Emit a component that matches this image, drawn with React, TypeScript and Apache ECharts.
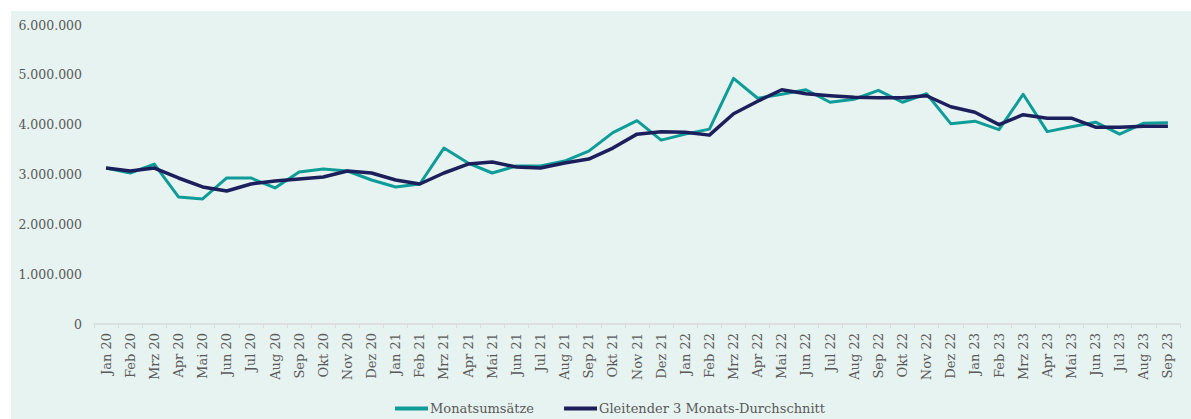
import React, { useEffect, useRef } from "react";
import * as echarts from "echarts";

const months = [
  "Jan 20","Feb 20","Mrz 20","Apr 20","Mai 20","Jun 20","Jul 20","Aug 20","Sep 20","Okt 20","Nov 20","Dez 20",
  "Jan 21","Feb 21","Mrz 21","Apr 21","Mai 21","Jun 21","Jul 21","Aug 21","Sep 21","Okt 21","Nov 21","Dez 21",
  "Jan 22","Feb 22","Mrz 22","Apr 22","Mai 22","Jun 22","Jul 22","Aug 22","Sep 22","Okt 22","Nov 22","Dez 22",
  "Jan 23","Feb 23","Mrz 23","Apr 23","Mai 23","Jun 23","Jul 23","Aug 23","Sep 23",
];

const monatsumsaetze = [
  3130000, 3030000, 3210000, 2550000, 2510000, 2930000, 2930000, 2730000, 3050000, 3110000, 3070000, 2890000,
  2750000, 2810000, 3530000, 3230000, 3030000, 3170000, 3170000, 3270000, 3470000, 3840000, 4080000, 3690000,
  3810000, 3910000, 4930000, 4530000, 4610000, 4700000, 4450000, 4510000, 4690000, 4450000, 4620000, 4020000,
  4070000, 3900000, 4610000, 3860000, 3960000, 4050000, 3810000, 4030000, 4040000,
];

const gleitenderDurchschnitt = [
  3130000, 3070000, 3130000, 2930000, 2750000, 2670000, 2810000, 2870000, 2910000, 2950000, 3070000, 3030000,
  2890000, 2810000, 3030000, 3210000, 3250000, 3150000, 3130000, 3230000, 3310000, 3530000, 3810000, 3860000,
  3850000, 3790000, 4220000, 4470000, 4700000, 4620000, 4580000, 4550000, 4540000, 4540000, 4580000, 4360000,
  4250000, 4000000, 4200000, 4130000, 4130000, 3950000, 3950000, 3970000, 3970000,
];

const yTicks = [0, 1000000, 2000000, 3000000, 4000000, 5000000, 6000000];

const fmt = (v: number) => {
  const s = String(Math.round(v));
  return s.replace(/\B(?=(\d{3})+(?!\d))/g, ".");
};

const FONT = "DejaVu Serif";
const TEXT = "#595959";

export default function App() {
  const ref = useRef<HTMLDivElement>(null);
  useEffect(() => {
    if (!ref.current) return;
    const chart = echarts.init(ref.current, undefined, { renderer: "svg" });
    chart.setOption({
      animation: false,
      backgroundColor: "#e7f3f0",
      textStyle: { fontFamily: FONT },
      grid: { left: 83, right: 11, top: 14, bottom: 95, containLabel: false },
      legend: {
        left: 379,
        top: 386,
        itemWidth: 33,
        itemHeight: 4,
        itemGap: 30,
        icon: "rect",
        textStyle: { fontFamily: FONT, fontSize: 13, color: TEXT, padding: [0, 0, 0, -3] },
        data: ["Monatsumsätze", "Gleitender 3 Monats-Durchschnitt"],
      },
      xAxis: {
        type: "category",
        data: months,
        boundaryGap: true,
        axisLine: { show: true, lineStyle: { color: "#d9d9d9", width: 1.5 } },
        axisTick: { show: true, length: 4, lineStyle: { color: "#d9d9d9" }, interval: 0 },
        axisLabel: {
          rotate: 90,
          interval: 0,
          margin: 9,
          fontFamily: FONT,
          fontSize: 13,
          color: TEXT,
        },
      },
      yAxis: {
        type: "value",
        min: yTicks[0],
        max: yTicks[yTicks.length - 1],
        interval: yTicks[1] - yTicks[0],
        splitLine: { show: false },
        axisLine: { show: false },
        axisTick: { show: false },
        axisLabel: {
          formatter: (v: number) => fmt(v),
          fontFamily: FONT,
          fontSize: 12.5,
          color: TEXT,
          margin: 12,
        },
      },
      series: [
        {
          name: "Monatsumsätze",
          type: "line",
          data: monatsumsaetze,
          symbol: "none",
          color: "#0e9c99",
          lineStyle: { width: 3, color: "#0e9c99", join: "round" },
          itemStyle: { color: "#0e9c99" },
        },
        {
          name: "Gleitender 3 Monats-Durchschnitt",
          type: "line",
          data: gleitenderDurchschnitt,
          symbol: "none",
          color: "#1b1f5c",
          lineStyle: { width: 3.5, color: "#1b1f5c", join: "round" },
          itemStyle: { color: "#1b1f5c" },
        },
      ],
    });
    return () => chart.dispose();
  }, []);

  return (
    <div style={{ position: "fixed", left: 0, top: 0, width: 1191, height: 419, background: "#ffffff" }}>
      <div ref={ref} style={{ position: "absolute", left: 11, top: 11, width: 1180, height: 408 }} />
    </div>
  );
}
